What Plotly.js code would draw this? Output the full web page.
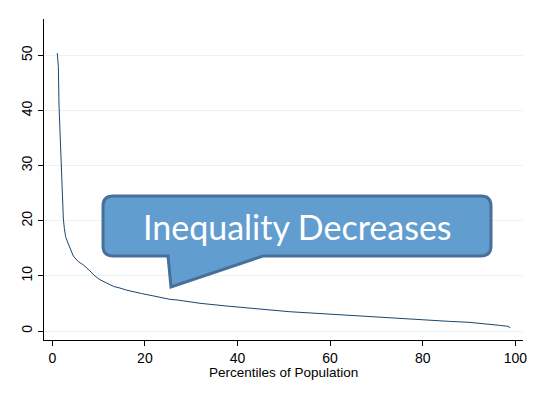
<!DOCTYPE html>
<html>
<head>
<meta charset="utf-8">
<script src="https://cdn.plot.ly/plotly-3.0.1.min.js"></script>
<style>html,body{margin:0;padding:0;background:#fff;}#chart{width:543px;height:398px;}</style>
</head>
<body>
<div id="chart"></div>
<script>
// Percentile of population (x) and value (y)
const percentiles = [1.08, 1.31, 1.45, 1.73, 1.95, 2.16, 2.38, 2.6, 2.89, 3.46, 3.97, 4.54, 5.6, 6.7, 8.0, 9.2, 10.3, 12.1, 13.2, 14.6, 16.1, 19.3, 23.3, 25.4, 27.2, 31.9, 37.6, 42.7, 47.0, 51.3, 53.5, 59.2, 62.8, 66.4, 70.0, 74.4, 77.9, 81.9, 85.5, 90.0, 92.6, 94.5, 96.6, 98.4, 98.9];
const values = [50.4, 48.0, 41.0, 34.1, 28.9, 23.8, 20.5, 18.6, 17.1, 15.8, 14.7, 13.6, 12.6, 12.0, 11.0, 10.0, 9.3, 8.6, 8.1, 7.8, 7.4, 6.8, 6.05, 5.75, 5.6, 5.03, 4.54, 4.12, 3.81, 3.5, 3.39, 3.09, 2.85, 2.67, 2.49, 2.3, 2.12, 1.94, 1.76, 1.58, 1.40, 1.22, 1.03, 0.85, 0.6];
const xTicks = [0, 20, 40, 60, 80, 100];
const yTicks = [0, 10, 20, 30, 40, 50];
const xTitle = "Percentiles of Population";
const calloutText = "Inequality Decreases";

const W = 543, H = 398;
const M = {l: 44, r: 20, t: 19, b: 58};
const pw = W - M.l - M.r, ph = H - M.t - M.b;
const px = x => ((x - M.l) / pw).toFixed(4);
const py = y => ((H - M.b - y) / ph).toFixed(4);
const P = (x, y) => px(x) + ',' + py(y);

// callout box (pixel geometry)
const bx0 = 103, bx1 = 491, by0 = 196, by1 = 256, r = 10;
const tailL = 168, tailR = 263, tipX = 171, tipY = 287;
const path = 'M ' + P(bx0 + r, by0) +
  ' L ' + P(bx1 - r, by0) +
  ' Q ' + P(bx1, by0) + ' ' + P(bx1, by0 + r) +
  ' L ' + P(bx1, by1 - r) +
  ' Q ' + P(bx1, by1) + ' ' + P(bx1 - r, by1) +
  ' L ' + P(tailR, by1) +
  ' L ' + P(tipX, tipY) +
  ' L ' + P(tailL, by1) +
  ' L ' + P(bx0 + r, by1) +
  ' Q ' + P(bx0, by1) + ' ' + P(bx0, by1 - r) +
  ' L ' + P(bx0, by0 + r) +
  ' Q ' + P(bx0, by0) + ' ' + P(bx0 + r, by0) + ' Z';

const trace = {
  x: percentiles, y: values, type: 'scatter', mode: 'lines',
  line: {color: '#1a476f', width: 1}, hoverinfo: 'skip'
};

const layout = {
  width: W, height: H,
  margin: M,
  paper_bgcolor: '#ffffff', plot_bgcolor: '#ffffff',
  showlegend: false,
  font: {family: 'Liberation Sans, Arial, sans-serif', color: '#000', size: 13},
  xaxis: {
    range: [-1.79, 101.66], tickvals: xTicks, ticktext: xTicks.map(String),
    showgrid: false, zeroline: false, showline: true, linecolor: '#000', linewidth: 1.2,
    ticks: 'outside', ticklen: 5, tickwidth: 1, tickcolor: '#000',
    tickfont: {size: 14}, automargin: false
  },
  yaxis: {
    range: [-1.63, 56.6], tickvals: yTicks, ticktext: yTicks.map(String),
    showgrid: true, gridcolor: '#eaf2f3', gridwidth: 1, zeroline: false,
    showline: true, linecolor: '#000', linewidth: 1.2,
    ticks: 'outside', ticklen: 5, tickwidth: 1, tickcolor: '#000',
    tickfont: {size: 14}, tickangle: -90, automargin: false
  },
  shapes: [{
    type: 'path', xref: 'paper', yref: 'paper', path: path,
    fillcolor: '#629dd0', line: {color: '#48709a', width: 3}, layer: 'above'
  }],
  annotations: [{
    xref: 'paper', yref: 'paper', x: +px(297), y: +py(226),
    xanchor: 'center', yanchor: 'middle', showarrow: false,
    text: calloutText, font: {family: 'Lato, sans-serif', size: 34, color: '#ffffff'}
  }, {
    xref: 'paper', yref: 'paper', x: 0.5, y: +py(372.5),
    xanchor: 'center', yanchor: 'middle', showarrow: false,
    text: xTitle, font: {size: 13.5, color: '#000'}
  }]
};

Plotly.newPlot('chart', [trace], layout, {displayModeBar: false, staticPlot: true});
</script>
</body>
</html>
